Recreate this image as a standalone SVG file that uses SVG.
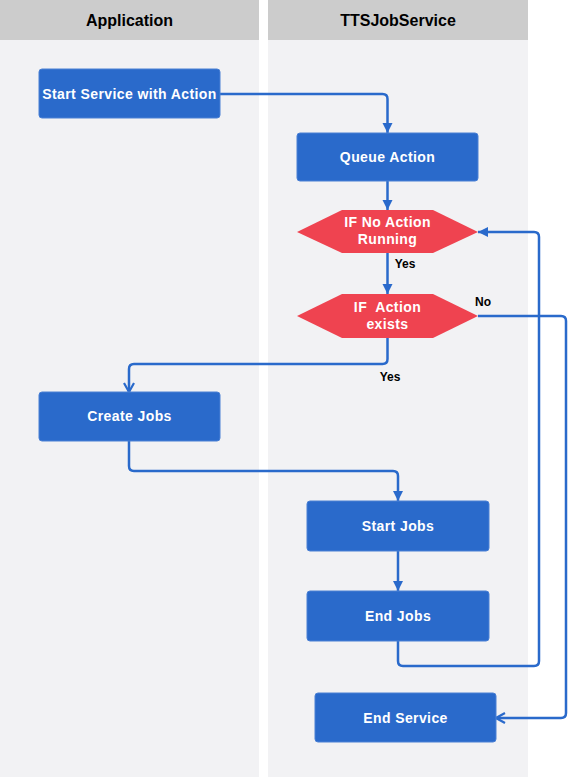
<svg xmlns="http://www.w3.org/2000/svg" width="568" height="777" viewBox="0 0 568 777">
<style>
.hdr{fill:#cccccc}
.lane{fill:#f2f2f4}
.htxt{font-family:"Liberation Sans",Arial,sans-serif;font-size:16px;font-weight:bold;fill:#000;text-anchor:middle}
.box{fill:#2a6acb;stroke:#4a80d4;stroke-width:1}
.dec{fill:#ef4350}
.t{font-family:"Liberation Sans",Arial,sans-serif;font-size:14px;font-weight:bold;fill:#fff;text-anchor:middle;letter-spacing:0.4px}
.lbl{font-family:"Liberation Sans",Arial,sans-serif;font-size:12px;font-weight:bold;fill:#000;text-anchor:middle}
.c{fill:none;stroke:#2a6acb;stroke-width:2.5}
</style>
<defs>
<marker id="af" markerUnits="userSpaceOnUse" markerWidth="11" markerHeight="11" refX="10" refY="5.5" orient="auto" viewBox="0 0 11 11">
<path d="M0,0.5 L10,5.5 L0,10.5 z" fill="#2a6acb"/>
</marker>
<marker id="ao" markerUnits="userSpaceOnUse" markerWidth="12" markerHeight="12" refX="10" refY="6" orient="auto" viewBox="0 0 12 12">
<path d="M1,1 L10,6 L1,11" fill="none" stroke="#2a6acb" stroke-width="2.2"/>
</marker>
</defs>
<rect width="568" height="777" fill="#ffffff"/>
<g id="lane-application">
<rect class="lane" x="0" y="40" width="259" height="737"/>
<rect class="hdr" x="0" y="0" width="259" height="40"/>
<text class="htxt" x="129.5" y="26">Application</text>
</g>
<g id="lane-ttsjobservice">
<rect class="lane" x="268" y="40" width="260" height="737"/>
<rect class="hdr" x="268" y="0" width="260" height="40"/>
<text class="htxt" x="398" y="26">TTSJobService</text>
</g>
<g id="connectors">
<path class="c" d="M220,94 H382.5 Q387.5,94 387.5,99 V133" marker-end="url(#af)"/>
<path class="c" d="M387.5,181 V210" marker-end="url(#af)"/>
<path class="c" d="M387.5,253 V294" marker-end="url(#af)"/>
<path class="c" d="M387.5,338 V359 Q387.5,364 382.5,364 H134 Q129,364 129,369 V392" marker-end="url(#ao)"/>
<path class="c" d="M129,441 V466 Q129,471 134,471 H393 Q398,471 398,476 V501" marker-end="url(#af)"/>
<path class="c" d="M398,551 V591" marker-end="url(#af)"/>
<path class="c" d="M398,641 V661 Q398,666 403,666 H534 Q539,666 539,661 V237 Q539,232 534,232 H478" marker-end="url(#af)"/>
<path class="c" d="M478,316 H561 Q566,316 566,321 V713 Q566,718 561,718 H496" marker-end="url(#ao)"/>
<text class="lbl" x="405" y="268">Yes</text>
<text class="lbl" x="483" y="306">No</text>
<text class="lbl" x="390" y="381">Yes</text>
</g>
<g id="start-service">
<rect class="box" x="39" y="69" width="181" height="49" rx="3"/>
<text class="t" x="129.5" y="99">Start Service with Action</text>
</g>
<g id="queue-action">
<rect class="box" x="297" y="133" width="181" height="48" rx="3"/>
<text class="t" x="387.5" y="162">Queue Action</text>
</g>
<g id="if-no-action-running">
<polygon class="dec" points="297,232 342,210 433,210 478,232 433,253 342,253"/>
<text class="t" x="387.5" y="226.5">IF No Action</text>
<text class="t" x="387.5" y="244">Running</text>
</g>
<g id="if-action-exists">
<polygon class="dec" points="297,316 342,294 433,294 478,316 433,338 342,338"/>
<text class="t" x="387.5" y="311.5" xml:space="preserve">IF  Action</text>
<text class="t" x="387.5" y="329">exists</text>
</g>
<g id="create-jobs">
<rect class="box" x="39" y="392" width="181" height="49" rx="3"/>
<text class="t" x="129.5" y="421">Create Jobs</text>
</g>
<g id="start-jobs">
<rect class="box" x="307" y="501" width="182" height="50" rx="3"/>
<text class="t" x="398" y="531">Start Jobs</text>
</g>
<g id="end-jobs">
<rect class="box" x="307" y="591" width="182" height="50" rx="3"/>
<text class="t" x="398" y="621">End Jobs</text>
</g>
<g id="end-service">
<rect class="box" x="315" y="693" width="181" height="49" rx="3"/>
<text class="t" x="405.5" y="723">End Service</text>
</g>
</svg>
